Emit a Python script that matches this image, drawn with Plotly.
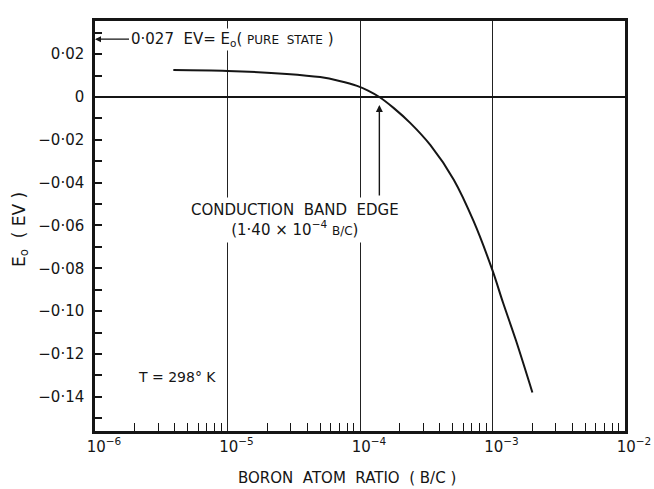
import numpy as np
import plotly.graph_objects as go

# ---- data ----
boron_ratio = [3.9e-6, 1e-5, 2.8e-5, 5e-5, 7e-5, 9.5e-5, 1.15e-4, 1.4e-4,
               1.8e-4, 2.4e-4, 3.4e-4, 5.1e-4, 7.2e-4, 1.0e-3, 1.2e-3,
               1.5e-3, 2.0e-3]
energy_ev = [0.0126, 0.0122, 0.0108, 0.0093, 0.0075, 0.0052, 0.0030, 0.0,
             -0.0052, -0.0122, -0.0225, -0.0386, -0.058, -0.081, -0.096,
             -0.1135, -0.138]

x_decades = [1e-6, 1e-5, 1e-4, 1e-3, 1e-2]
x_tick_text = ["10<sup>−6</sup>", "10<sup>−5</sup>", "10<sup>−4</sup>",
               "10<sup>−3</sup>", "10<sup>−2</sup>"]
x_minor = [m * d for d in x_decades[:-1] for m in range(2, 10)]

y_ticks = [0.03, 0.02, 0.01, 0.0, -0.01, -0.02, -0.03, -0.04, -0.05, -0.06,
           -0.07, -0.08, -0.09, -0.10, -0.11, -0.12, -0.13, -0.14, -0.15]
y_tick_text = ["", "0·02", "", "0", "", "−0·02", "", "−0·04", "", "−0·06",
               "", "−0·08", "", "−0·10", "", "−0·12", "", "−0·14", ""]

pure_state_e0 = 0.027
band_edge_ratio = 1.40e-4

FONT = "DejaVu Sans"
INK = "#151515"

fig = go.Figure()
fig.add_trace(go.Scatter(x=boron_ratio, y=energy_ev, mode="lines",
                         line=dict(color=INK, width=2, shape="spline", smoothing=1.0),
                         showlegend=False, hoverinfo="skip"))

fig.update_layout(
    width=654, height=489,
    margin=dict(l=95, r=29, t=21, b=58, autoexpand=False),
    paper_bgcolor="white", plot_bgcolor="white",
    font=dict(family=FONT, size=15, color=INK),
    showlegend=False,
)

fig.update_xaxes(
    type="log", range=[-6, -2], automargin=False,
    tickmode="array", tickvals=x_decades, ticktext=x_tick_text,
    ticks="", showgrid=True, gridcolor="#222", gridwidth=1.2,
    showline=True, linecolor=INK, linewidth=2.5, mirror=True,
    tickfont=dict(size=15, family=FONT),
    ticklabelshift=9,
    minor=dict(tickvals=x_minor, ticks="inside", ticklen=8, tickwidth=1,
               tickcolor=INK, showgrid=False),
    zeroline=False,
)
fig.update_yaxes(
    range=[-0.156, 0.0355], automargin=False,
    tickmode="array", tickvals=y_ticks, ticktext=y_tick_text,
    ticks="inside", ticklen=7, tickwidth=1.5, tickcolor=INK,
    showgrid=False,
    zeroline=True, zerolinecolor=INK, zerolinewidth=1.6,
    showline=True, linecolor=INK, linewidth=2.5, mirror=True,
    tickfont=dict(size=15, family=FONT),
    ticklabelstandoff=5,
)

# Pure-state arrow and label
fig.add_annotation(
    x=np.log10(1e-6), y=pure_state_e0, xref="x", yref="y",
    text="0·027  EV= E<sub>o</sub>( <span style='font-size:12px'>PURE  STATE</span> )",
    showarrow=True, arrowhead=2, arrowsize=1, arrowwidth=1.2, arrowcolor=INK,
    ax=34, ay=0, xanchor="left", bgcolor="white", borderpad=1,
    font=dict(size=15, family=FONT, color=INK),
)

# Conduction band edge arrow
fig.add_annotation(
    x=np.log10(band_edge_ratio), y=0, xref="x", yref="y", text="",
    showarrow=True, arrowhead=2, arrowsize=1, arrowwidth=1.4, arrowcolor=INK,
    ax=0, ay=100, standoff=8,
)
fig.add_annotation(
    x=np.log10(band_edge_ratio) - 0.64, y=-0.0575, xref="x", yref="y",
    text="CONDUCTION  BAND  EDGE<br>(1·40 × 10<sup>−4</sup> <span style='font-size:12px'>B/C</span>)",
    showarrow=False, bgcolor="white", borderpad=3,
    font=dict(size=15, family=FONT, color=INK),
)

# Temperature
fig.add_annotation(
    x=np.log10(1e-6) + 0.62, y=-0.131, xref="x", yref="y",
    text="T = 298° K", showarrow=False,
    font=dict(size=14, family=FONT, color=INK),
)

# Axis titles
fig.add_annotation(
    x=0.4755, y=-0.1146, xref="paper", yref="paper",
    xanchor="center", yanchor="middle",
    text="BORON  ATOM  RATIO  ( B/C )", showarrow=False,
    font=dict(size=15, family=FONT, color=INK),
)
fig.add_annotation(
    x=-0.1415, y=0.49, xref="paper", yref="paper", textangle=-90,
    xanchor="center", yanchor="middle",
    text="E<sub>o</sub>  ( EV )", showarrow=False,
    font=dict(size=17, family=FONT, color=INK),
)

fig.write_html(
    "out.html",
    config={"displayModeBar": False},
    post_script="document.body.style.margin='0';document.body.style.overflow='hidden';",
)
